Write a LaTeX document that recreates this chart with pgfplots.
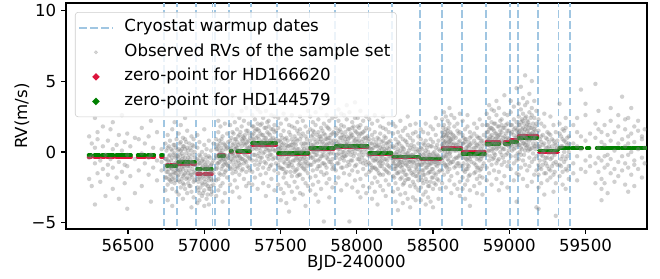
\documentclass[border=0pt]{standalone}
\usepackage{pgfplots}
\pgfplotsset{compat=1.18}
\usepackage{pgfplotstable}
\usepackage{fontspec}
\setmainfont{DejaVu Sans}
\definecolor{warm}{RGB}{160,198,226}
\definecolor{zpred}{RGB}{220,20,60}
\definecolor{zpgreen}{RGB}{0,128,0}
\definecolor{legedge}{RGB}{204,204,204}

\pgfplotsset{
 dashleg/.style={legend image code/.code={\draw[warm, line width=1.2bp, dash pattern=on 5.5bp off 2.4bp] (0bp,0bp) -- (24bp,0bp);}},
 grayleg/.style={legend image code/.code={\fill[gray, opacity=0.3] (12bp,0bp) circle (1.2bp);}},
 redleg/.style={legend image code/.code={\fill[zpred] (12bp,0bp) circle (0.9bp);}},
 greenleg/.style={legend image code/.code={\fill[zpgreen] (12bp,0bp) circle (0.9bp);}},
 rvpts/.style={only marks, mark=*, mark size=1.6bp, gray, mark options={draw opacity=0, fill=gray, fill opacity=0.37}},
}

\pgfplotstableread{
x a b c d e f g h
56245 1.1 -0.4 -1.9 nan nan nan nan nan
56262 -0.3 0.6 -2.4 nan nan nan nan nan
56283 2.4 -3.7 -0.8 0.3 nan nan nan nan
56300 1.4 -1.5 0.9 nan nan nan nan nan
56318 -0.6 -2.1 nan nan nan nan nan nan
56335 0.4 -1.2 1.8 nan nan nan nan nan
56352 -0.2 -3.1 nan nan nan nan nan nan
56368 0.8 -0.9 -1.6 nan nan nan nan nan
56385 1.6 -0.5 nan nan nan nan nan nan
56400 -1.1 0.2 -2.6 2.1 nan nan nan nan
56425 0.5 -1.8 nan nan nan nan nan nan
56440 -0.7 1.2 -3.3 nan nan nan nan nan
56460 0.1 -1.4 2.6 nan nan nan nan nan
56478 -0.9 0.7 -2.2 nan nan nan nan nan
56495 1.3 -0.2 -1.0 -4.0 nan nan nan nan
56515 0.4 -1.7 nan nan nan nan nan nan
56545 -0.5 1.0 -2.9 nan nan nan nan nan
56570 0.9 -1.3 nan nan nan nan nan nan
56590 -0.1 -2.4 1.7 nan nan nan nan nan
56610 -0.8 0.6 nan nan nan nan nan nan
56635 1.1 -1.6 -0.4 nan nan nan nan nan
56650 -0.2 2.2 -3.5 nan nan nan nan nan
56665 0.3 -1.1 nan nan nan nan nan nan
56690 -0.6 1.4 -2.0 nan nan nan nan nan
56720 0.2 -1.3 -0.7 nan nan nan nan nan
56745 -0.5 -1.8 0.6 -2.7 -1.1 nan nan nan
56760 0.3 -1.4 -2.3 -0.6 1.2 -3.4 nan nan
56775 -1.0 -0.2 -2.0 0.8 -1.6 nan nan nan
56790 0.1 -1.2 -2.6 -0.4 1.6 -1.9 -3.8 nan
56805 -0.8 0.5 -1.5 -2.2 -0.1 2.1 nan nan
56818 -1.3 -0.3 0.9 -2.8 -0.7 nan nan nan
56832 0.2 -1.1 -2.0 1.3 -0.5 -3.0 -1.6 nan
56846 -0.6 0.7 -1.4 -2.5 0.1 1.9 -0.9 nan
56860 -1.2 0.4 -2.2 -0.3 1.0 -3.3 -1.7 nan
56874 -0.4 -1.5 0.9 -2.6 0.2 -0.9 2.4 nan
56888 -1.0 0.3 -1.8 -0.6 1.5 -2.9 nan nan
56902 -0.2 -1.3 -2.4 0.6 -0.8 -1.9 nan nan
56916 -1.6 0.1 -0.7 -2.8 1.1 -3.9 nan nan
56930 -0.9 -2.1 0.4 -1.4 -3.2 0.9 nan nan
56955 -1.4 -0.5 -2.5 0.3 -1.9 -3.6 -0.9 1.2
56968 -1.8 -0.8 -2.9 -0.2 -1.3 0.7 -3.4 nan
56985 -1.1 -2.2 0.0 -1.6 -3.1 -0.6 nan nan
57000 -0.7 -1.9 -2.7 0.5 -1.2 -3.8 1.6 nan
57015 -1.5 -0.4 -2.3 -3.3 0.2 -1.0 nan nan
57030 -1.2 -2.6 -0.3 -1.7 -3.7 0.8 -2.0 nan
57045 -0.9 -1.9 -3.0 0.1 -1.4 -2.4 nan nan
57060 -0.6 -1.5 0.6 -2.3 nan nan nan nan
57078 -0.3 -1.2 0.9 -2.0 0.2 -3.1 nan nan
57092 0.4 -0.8 -1.9 1.4 -0.2 -2.7 2.2 nan
57106 -0.5 0.6 -1.6 -0.1 1.8 -2.4 nan nan
57120 0.1 -1.0 1.1 -2.2 -0.4 -3.5 nan nan
57135 -0.7 0.5 -1.4 2.0 -0.2 -2.9 nan nan
57150 0.3 -0.9 1.3 -1.8 -0.3 nan nan nan
57170 -0.2 0.8 -1.1 1.9 -2.3 0.2 -0.7 nan
57185 0.5 -0.6 1.4 -1.5 2.6 -0.1 -2.8 nan
57200 -0.4 0.9 -1.2 0.2 2.1 -2.0 nan nan
57215 0.7 -0.3 1.6 -1.0 -2.5 0.3 nan nan
57230 0.1 1.2 -0.8 2.4 -1.6 -0.3 -3.2 nan
57245 0.9 -0.5 1.8 -1.3 0.4 2.9 nan nan
57260 -0.1 1.0 -1.9 0.6 2.2 -0.8 nan nan
57275 0.6 -0.7 1.5 -1.4 0.2 3.1 -2.4 nan
57292 0.3 1.3 -0.4 2.0 -1.1 -2.2 0.8 nan
57315 0.9 -0.6 1.8 -1.4 2.6 0.2 -2.3 1.2
57332 0.3 1.5 -0.9 2.3 -1.8 0.7 3.2 -0.2
57350 1.1 -0.3 2.0 -1.2 0.5 -2.6 1.6 3.0
57368 0.6 1.9 -0.7 2.8 -1.6 0.1 -0.4 1.3
57386 -0.1 1.2 2.4 -1.1 0.8 -2.2 3.4 0.4
57404 0.7 -0.8 1.7 2.9 -1.5 0.2 -3.1 1.0
57422 1.3 0.1 -1.2 2.2 -0.5 1.8 -2.4 0.6
57440 0.4 1.6 -0.9 2.6 -1.9 0.9 -0.2 3.6
57460 0.8 -0.4 1.9 -1.3 0.1 2.5 -2.7 1.4
57485 -0.4 0.8 -1.5 1.7 -2.3 0.2 -0.9 2.4
57502 0.3 -1.1 1.2 -2.6 -0.2 2.0 -3.4 0.7
57520 -0.7 0.6 -1.8 1.5 -0.1 -2.9 2.7 -1.2
57538 0.1 -1.4 1.0 -0.5 2.3 -2.2 -3.6 0.5
57556 -0.3 1.4 -1.0 0.4 -2.4 1.9 -0.8 -4.2
57574 0.5 -0.9 1.8 -1.7 -0.2 2.6 -2.8 0.9
57592 -0.6 0.2 -1.4 1.1 -2.1 0.6 -3.3 1.7
57610 0.2 -1.2 1.5 -0.4 -2.5 2.1 0.8 -1.7
57628 -0.8 0.9 -1.6 0.0 1.6 -2.9 -0.5 2.5
57646 0.4 -0.5 -1.9 1.3 -1.1 2.2 -3.0 0.1
57664 -0.2 1.1 -1.3 0.6 -2.2 1.8 -0.7 -3.8
57680 0.6 -0.8 1.4 -1.5 0.0 2.9 -2.4 nan
57695 0.3 -0.9 1.6 -1.8 0.8 2.5 -0.3 -2.7
57712 -0.4 1.2 0.5 -1.3 2.1 -2.3 0.0 1.5
57730 0.7 -0.6 1.9 -1.7 0.2 -3.0 2.8 -0.2
57748 0.1 1.4 -1.0 0.9 -2.1 2.3 -0.6 -3.5
57766 0.9 -0.3 1.7 -1.4 0.4 -2.6 3.1 1.1
57784 -0.2 0.6 -1.6 1.3 -4.9 2.0 -0.8 0.3
57802 0.5 -1.1 1.8 -0.4 2.6 -2.2 0.9 -1.5
57820 0.0 1.0 -1.9 0.6 -0.7 2.2 -3.2 1.6
57840 0.6 -0.5 1.3 -1.2 2.4 0.2 -2.5 -0.9
57862 0.8 -0.4 1.7 -1.3 2.5 0.3 -2.2 1.2
57880 0.2 1.5 -0.8 2.2 -1.8 0.7 3.0 -0.1
57898 1.0 -0.2 1.9 -1.1 0.5 -2.7 1.4 2.7
57916 0.4 1.8 -0.6 2.6 -1.5 0.0 -0.3 1.1
57934 -0.2 1.1 2.3 -1.0 0.7 -2.3 3.3 0.5
57952 0.6 -0.9 1.6 2.8 -1.6 0.1 -4.9 1.0
57970 1.2 0.0 -1.3 2.1 -0.6 1.7 -2.5 0.4
57988 0.3 1.5 -1.0 2.4 -2.0 0.8 -0.1 3.5
58006 0.7 -0.5 1.8 -1.4 0.2 2.4 -2.8 1.3
58024 0.1 1.3 -0.7 1.9 -1.9 0.5 -3.2 2.9
58042 0.9 -0.2 1.4 -1.2 2.2 -0.8 0.4 -2.4
58062 0.4 1.7 -0.9 2.5 -1.6 0.0 -2.9 1.0
58082 -0.3 0.9 -1.4 1.6 -2.5 0.3 -0.8 2.3
58100 0.2 -1.1 1.2 -2.2 -0.4 2.0 -3.3 0.6
58118 -0.6 0.5 -1.8 1.4 -0.1 -2.8 2.6 -1.1
58136 0.0 -1.3 1.0 -0.6 2.2 -2.1 -3.7 0.4
58154 -0.4 1.3 -1.0 0.3 -2.4 1.8 -0.7 -1.6
58172 0.4 -0.8 1.7 -1.6 -0.2 2.5 -2.7 0.8
58190 -0.5 0.1 -1.3 1.0 -2.0 0.6 -3.1 1.6
58210 0.2 -1.0 1.4 -0.3 -2.3 2.0 0.7 -1.5
58238 -0.8 0.4 -1.7 -0.2 1.3 -2.8 -0.6 2.0
58254 -0.1 -1.2 -2.2 0.9 -1.0 1.8 -3.5 -0.4
58270 -0.6 0.7 -1.5 0.2 -2.6 1.4 -0.9 -4.1
58286 0.1 -1.0 1.1 -1.9 -0.3 2.2 -3.0 -0.7
58302 -0.9 0.3 -1.4 0.9 -2.3 0.0 -3.6 1.5
58318 -0.2 -1.6 0.8 -0.8 -2.9 1.7 -0.4 -2.0
58334 -1.0 0.5 -1.9 -0.1 1.2 -3.3 -0.6 2.5
58350 -0.3 -1.3 1.0 -2.4 -0.7 1.9 -3.9 0.3
58368 -0.7 0.2 -1.6 0.8 -2.1 -0.2 -3.2 1.3
58386 0.0 -1.1 -2.5 1.4 -0.6 2.0 -1.7 -3.4
58404 -0.5 0.6 -1.4 -0.9 -2.7 1.1 0.1 -2.0
58420 -0.9 0.3 -1.8 0.9 -2.5 -0.3 1.6 -3.4
58436 -0.2 -1.3 0.6 -2.2 -0.7 1.4 -3.0 -1.6
58452 -1.1 0.1 -1.9 0.8 -2.8 -0.5 2.0 -3.7
58468 -0.4 -1.5 0.5 -2.4 -0.9 1.3 -3.2 0.0
58484 -0.8 0.4 -1.4 -2.1 0.9 -3.5 -0.2 1.8
58500 -0.1 -1.2 -2.6 0.7 -0.6 1.6 -3.9 -1.8
58518 -0.7 0.3 -1.6 -0.3 -2.3 1.2 -0.9 2.4
58536 -0.3 -1.4 0.8 -2.0 -0.8 1.9 -3.3 0.2
58560 0.5 -0.6 1.4 -1.3 2.3 0.1 -2.2 1.0
58572 0.2 1.2 -0.8 1.9 -1.6 0.6 2.8 -0.3
58584 0.8 -0.3 1.6 -1.0 0.3 -2.5 1.1 2.5
58596 0.4 1.5 -0.5 2.2 -1.4 0.0 -0.9 1.3
58608 -0.1 1.0 2.0 -1.2 0.7 -2.0 3.1 0.4
58620 0.6 -0.7 1.3 2.6 -1.7 0.2 -2.9 0.9
58640 0.1 1.1 -1.1 1.8 -0.5 2.4 -2.3 0.6
58660 0.5 -0.4 1.5 -1.5 0.3 2.0 -2.6 -0.8
58676 -0.2 0.8 -1.0 1.4 -2.1 0.4 2.7 -3.1
58694 0.2 -1.0 1.2 -1.8 0.6 -0.4 2.2 -2.6
58710 -0.4 0.7 -1.4 1.6 -0.1 -2.3 0.9 -3.3
58726 0.4 -0.6 1.8 -1.2 -2.0 0.1 2.6 -0.9
58742 -0.2 1.0 -1.6 0.5 -2.7 1.4 -0.5 -3.8
58770 0.3 -0.8 1.3 -1.5 0.8 -2.4 2.0 -0.3
58788 -0.5 0.5 -1.1 1.7 -1.9 0.0 -2.9 1.1
58806 0.1 -1.3 1.0 -0.6 2.3 -2.2 0.6 -1.7
58824 -0.3 0.8 -1.8 0.4 -1.0 1.9 -3.0 0.0
58852 1.0 -0.2 1.9 -1.1 2.7 0.5 -2.0 1.4
58868 0.5 1.6 -0.6 2.4 -1.5 0.9 3.3 0.1
58884 1.2 0.1 2.1 -0.9 0.7 -2.3 1.7 3.0
58900 0.7 2.0 -0.4 2.9 -1.3 0.3 -0.1 1.5
58916 0.2 1.3 2.6 -0.8 1.0 -1.9 3.6 0.6
58932 0.9 -0.5 1.8 3.1 -1.4 0.4 -2.7 1.2
58950 1.4 0.3 -0.9 2.3 -0.2 1.9 -2.2 0.8
58968 0.6 1.7 -0.7 2.7 -1.7 1.1 0.2 4.0
58988 1.0 -0.1 2.0 -1.0 0.5 2.6 -2.5 1.5
59010 0.8 1.9 -0.3 2.8 -1.2 0.5 3.6 1.3
59030 1.2 0.2 2.3 -0.8 1.6 -2.0 3.2 0.6
59048 0.5 1.5 -0.6 2.1 4.5 -1.5 1.0 -3.5
59062 1.4 0.5 2.5 -0.5 1.9 3.4 -1.6 0.9
59076 0.9 2.1 -0.2 3.0 -1.1 1.3 4.6 0.3
59090 1.7 0.6 2.7 -0.6 1.1 3.8 -1.9 2.2
59104 1.1 2.4 0.1 3.3 -0.9 1.6 5.4 0.5
59118 1.5 0.4 2.2 -1.3 3.5 0.9 -2.4 1.9
59132 0.8 1.9 -0.4 2.8 4.1 -1.0 1.3 0.2
59148 1.3 2.6 0.3 -0.7 3.1 1.7 -2.1 5.0
59164 0.9 1.6 -0.5 2.4 -1.6 3.6 0.4 1.2
59178 1.2 -0.3 2.0 0.6 -1.3 2.9 -3.9 nan
59192 0.4 -0.9 1.5 -1.6 2.3 -2.5 -4.0 nan
59210 -0.2 1.1 -1.2 0.7 2.0 -2.2 nan nan
59230 0.6 -0.6 1.8 -1.5 0.1 2.7 -3.0 nan
59250 -0.4 0.9 -1.0 1.4 -2.0 0.3 nan nan
59270 0.2 -1.3 1.2 -0.5 2.5 -1.8 nan nan
59290 -0.1 0.8 -1.6 1.9 -0.8 -2.8 nan nan
59305 0.5 -0.7 1.4 -2.2 0.1 -4.5 nan nan
59330 0.3 1.3 -0.9 2.0 -1.7 3.4 nan nan
59350 -0.3 0.9 -1.4 1.6 -2.3 0.4 nan nan
59370 0.7 -0.5 1.7 -1.2 2.4 -2.6 nan nan
59390 0.0 1.1 -1.0 0.6 -1.9 nan nan nan
59420 0.6 -0.8 1.9 -1.5 nan nan nan nan
59445 1.4 -0.3 2.4 -2.0 0.4 nan nan nan
59470 0.2 4.4 -1.2 1.1 nan nan nan nan
59500 0.8 -0.6 2.6 3.4 -1.4 nan nan nan
59530 -0.3 1.3 -1.0 nan nan nan nan nan
59565 1.0 -0.8 2.0 -2.2 4.8 nan nan nan
59585 0.3 1.6 -1.4 -0.4 2.9 nan nan nan
59605 -0.6 0.7 -1.9 -2.6 1.4 -3.4 nan nan
59625 0.5 -1.1 1.9 -0.3 -2.2 nan nan nan
59645 -0.2 1.2 -0.9 -2.9 nan nan nan nan
59665 0.8 -0.5 2.2 -1.5 3.1 nan nan nan
59690 0.1 -1.2 1.4 -2.1 nan nan nan nan
59715 0.6 1.8 -0.7 2.6 -1.7 nan nan nan
59740 -0.3 0.9 -1.3 3.9 nan nan nan nan
59760 0.4 -0.8 1.6 -2.3 2.3 nan nan nan
59780 1.1 -0.2 2.4 -1.1 0.6 -2.8 nan nan
59800 0.0 1.3 -1.6 3.1 nan nan nan nan
59820 0.7 -0.6 1.8 -0.9 -2.4 nan nan nan
59845 0.2 1.5 -1.2 2.2 nan nan nan nan
59870 0.9 -0.4 1.1 -1.8 nan nan nan nan
59888 0.3 1.6 -0.8 nan nan nan nan nan
}\rvdata

\pgfplotstableread{
x i j k l m
56752 -0.5 -1.4 -0.9 0.1 -1.8
56768 -1.2 -0.3 -1.9 -0.7 0.4
56783 -0.6 -1.6 0.2 -1.1 -2.1
56798 -1.4 -0.2 -0.9 -1.8 0.5
56812 -0.4 -1.1 -2.0 0.3 -1.5
56826 -0.9 0.1 -1.7 -0.3 -1.3
56839 -0.2 -1.3 0.6 -2.1 -0.7
56853 -1.1 -0.5 -1.9 0.2 -0.1
56867 -0.6 -1.6 0.4 -1.0 -2.3
56881 -1.3 -0.1 -0.8 -1.9 0.7
56895 -0.4 -1.0 -2.2 0.1 -1.5
56909 -1.0 0.3 -1.6 -0.5 -2.4
56923 -0.7 -1.8 -0.2 -1.2 0.5
56937 -1.5 -0.4 -0.9 -2.0 0.0
56961 -1.2 -2.1 -0.6 -1.6 -2.7
56975 -1.9 -0.8 -1.4 -2.5 -0.3
56992 -1.0 -1.7 -2.3 -0.5 -2.9
57007 -1.6 -0.9 -2.1 -1.3 -0.2
57022 -1.1 -2.4 -0.7 -1.8 -3.0
57037 -1.7 -1.0 -2.6 -0.4 -1.4
57050 -1.3 -2.0 -0.8 -2.8 nan
57085 -0.4 0.5 -1.1 -0.8 0.2
57099 0.1 -0.7 -1.5 0.8 -0.3
57113 -0.6 0.3 -1.2 -0.1 0.9
57127 -0.2 -0.9 0.6 -1.6 -0.5
57142 0.2 -0.5 -1.3 0.4 -0.8
57157 -0.4 0.7 -1.0 nan nan
57177 0.3 -0.5 1.0 -1.2 0.0
57192 -0.3 0.6 -0.9 1.3 -0.1
57207 0.4 -0.7 0.9 -1.4 0.2
57222 -0.2 1.1 -0.6 0.5 -1.1
57237 0.6 -0.4 1.4 -0.9 0.1
57252 0.0 0.8 -1.2 1.1 -0.5
57267 0.5 -0.6 1.2 -0.2 0.9
57284 -0.3 0.7 -1.0 0.3 1.5
57300 0.4 -0.5 1.0 -1.3 0.1
57323 0.6 1.3 -0.2 0.9 1.8
57341 0.2 1.0 -0.6 1.6 0.5
57359 0.9 -0.1 1.5 0.3 -0.9
57377 0.4 1.2 -0.4 2.0 0.7
57395 1.0 0.0 1.7 -0.7 0.5
57413 0.3 1.4 -0.3 0.8 2.1
57431 0.8 -0.2 1.2 0.1 -1.0
57450 0.5 1.6 -0.5 1.0 0.2
57470 0.1 0.9 1.5 -0.8 0.6
57494 0.2 -0.6 0.8 -1.1 0.4
57511 -0.4 0.5 -1.2 0.1 1.0
57529 0.3 -0.8 0.9 -0.2 -1.5
57547 -0.5 0.4 -1.0 0.8 -0.1
57565 0.1 -0.7 1.2 -1.4 0.5
57583 -0.2 0.7 -1.1 0.3 -0.6
57601 0.5 -0.4 -1.3 0.9 0.0
57619 -0.6 0.2 -0.9 1.3 -1.6
57637 0.0 -1.0 0.6 -0.3 1.1
57655 -0.4 0.6 -1.2 0.2 -0.8
57673 0.3 -0.5 0.9 -1.0 0.1
57703 0.5 -0.4 1.1 -0.9 0.2
57721 0.0 0.9 -0.7 1.4 0.4
57739 0.6 -0.2 1.2 -1.2 0.1
57757 0.2 1.1 -0.5 0.7 -1.0
57775 0.7 -0.3 1.5 0.0 -0.8
57793 0.1 0.9 -0.9 1.2 0.4
57811 0.6 -0.5 1.0 -0.2 1.7
57829 0.3 1.2 -0.7 0.8 -0.1
57848 0.8 -0.1 1.4 -1.1 0.5
57871 0.6 -0.2 1.3 -0.8 0.3
57889 0.2 1.0 -0.5 1.6 0.5
57907 0.8 -0.4 1.2 0.0 -1.1
57925 0.3 1.4 -0.3 0.9 0.6
57943 0.9 0.0 1.6 -0.7 0.4
57961 0.4 1.1 -0.6 1.3 -0.2
57979 0.7 -0.3 1.8 0.2 1.0
57997 0.2 0.9 -0.9 1.4 0.5
58015 0.8 -0.2 1.1 -0.5 1.7
58033 0.4 1.3 -0.4 0.7 0.0
58052 0.6 -0.6 1.5 0.2 1.0
58071 0.3 1.1 -0.7 0.8 -0.2
58091 -0.2 0.6 -0.9 0.2 -1.3
58109 0.3 -0.6 0.9 -1.1 -0.1
58127 -0.5 0.4 -1.2 0.7 -0.3
58145 0.1 -0.8 0.5 -1.5 0.9
58163 -0.3 0.7 -1.0 0.2 -0.6
58181 0.2 -0.5 1.1 -1.2 0.0
58200 -0.6 0.3 -0.9 0.6 -1.4
58220 0.0 -1.1 0.8 -0.4 0.4
58246 -0.5 -1.2 0.3 -0.8 -1.8
58262 -0.2 0.5 -1.0 -1.5 0.0
58278 -0.8 -0.1 -1.4 0.6 -0.5
58294 -0.3 -1.1 0.4 -1.8 -0.7
58310 -0.6 0.2 -1.3 -0.4 -2.2
58326 -0.1 -0.9 0.7 -1.6 -0.4
58342 -0.7 0.1 -1.2 -0.3 -1.9
58359 -0.2 -1.0 0.5 -1.5 -0.6
58377 -0.8 -0.3 -1.4 0.4 -2.3
58395 -0.4 -1.2 0.2 -0.9 -1.7
58412 -0.7 0.0 -1.5 -0.2 nan
58428 -0.5 -1.3 0.2 -0.9 -2.0
58444 -0.8 -0.1 -1.6 -0.4 0.5
58460 -0.3 -1.1 -2.1 0.3 -0.7
58476 -0.9 -0.2 -1.4 -0.6 -2.4
58492 -0.4 -1.2 0.4 -1.8 -0.8
58509 -0.7 0.0 -1.5 -0.3 -2.2
58527 -0.2 -1.0 -1.9 0.5 -0.6
58545 -0.8 -0.4 -1.3 0.1 -2.6
58566 0.4 1.1 -0.4 0.8 1.7
58578 0.0 0.7 -0.9 1.4 0.3
58590 0.6 -0.2 1.2 0.2 -1.1
58602 0.3 1.0 -0.6 1.7 0.7
58614 0.8 -0.3 1.4 0.0 -0.8
58630 0.2 0.9 -0.7 1.2 0.5
58650 0.5 -0.4 1.0 -1.0 0.1
58668 0.1 0.7 -0.8 1.3 -0.3
58700 -0.1 0.6 -0.8 1.0 -1.3
58718 0.3 -0.5 0.9 -1.2 0.1
58734 -0.4 0.4 -1.0 0.7 -1.7
58752 0.2 -0.7 1.1 -0.3 0.6
58779 -0.2 0.6 -0.9 0.3 -1.4
58797 0.4 -0.4 1.0 -1.1 0.0
58815 -0.5 0.2 -1.2 0.8 -0.3
58833 0.1 -0.8 0.6 -0.2 1.2
58860 0.8 1.4 0.1 1.9 0.5
58876 0.4 1.1 -0.3 1.7 0.9
58892 1.0 0.2 1.6 -0.5 0.6
58908 0.5 1.3 -0.2 2.0 0.9
58924 1.1 0.3 1.8 -0.6 0.7
58941 0.6 1.5 0.0 1.2 2.2
58959 1.0 0.2 1.7 -0.4 0.7
58978 0.5 1.3 -0.2 0.9 1.9
58997 0.9 0.1 1.5 -0.7 0.4
59018 0.7 1.4 0.1 1.9 0.4
59040 1.0 0.3 1.7 -0.3 0.8
59055 0.6 1.2 -0.1 1.6 nan
59069 1.2 0.5 1.9 0.0 1.5
59083 0.8 1.6 0.2 2.3 1.1
59097 1.4 0.6 2.0 -0.2 1.2
59111 1.0 1.8 0.3 2.5 0.7
59125 1.3 0.5 2.1 0.1 1.6
59140 0.9 1.7 0.2 2.4 1.2
59156 1.4 0.6 2.0 -0.1 1.0
59171 1.0 1.8 0.4 1.5 0.2
59200 0.2 -0.6 0.9 -1.1 0.4
59220 -0.3 0.5 -0.9 1.2 0.0
59240 0.3 -0.8 1.0 -0.4 -1.5
59260 -0.1 0.7 -1.2 0.4 1.3
59280 0.4 -0.4 0.9 -1.0 0.0
59298 -0.2 0.6 -1.4 0.2 nan
59315 0.3 -0.9 0.8 nan nan
59340 0.4 -0.5 1.1 -1.0 nan
59360 0.0 0.8 -0.7 1.5 nan
59380 0.5 -0.3 1.0 -1.3 nan
}\rvcore

\begin{document}
\begin{tikzpicture}
\begin{axis}[
 scale only axis, width=418.3bp, height=162.7bp,
 xmin=56093, xmax=59903, ymin=-5.43, ymax=10.5,
 scaled x ticks=false, scaled y ticks=false,
 xtick={56500,57000,57500,58000,58500,59000,59500},
 xticklabels={56500,57000,57500,58000,58500,59000,59500},
 ytick={-5,0,5,10}, yticklabels={−5,0,5,10},
 tick align=outside, xtick pos=left, ytick pos=left,
 major tick length=3.5bp,
 every tick/.style={black, line width=0.8bp},
 axis line style={line width=0.8bp},
 tick label style={font=\fontsize{12}{14}\selectfont},
 every axis x label/.style={at={(axis description cs:0.5,-0.150)}, anchor=center, font=\fontsize{12}{14}\selectfont},
 every axis y label/.style={at={(axis description cs:-0.0757,0.5)}, anchor=center, rotate=90, font=\fontsize{12}{14}\selectfont},
 xlabel={BJD-240000}, ylabel={RV(m/s)},
 legend cell align=left,
 legend style={at={(0,1)}, anchor=north west, xshift=6.5bp, yshift=-6.5bp,
   draw=legedge, rounded corners=2bp, fill=white, fill opacity=0.8, draw opacity=1, text opacity=1,
   font=\fontsize{12}{14}\selectfont, inner xsep=2.3bp, inner ysep=2.2bp, row sep=0pt, column sep=5.9bp,
   nodes={text height=9bp, text depth=3.5bp, inner ysep=2.6bp, inner xsep=2bp}},
]
\addlegendimage{dashleg}
\addlegendentry{Cryostat warmup dates}
\addplot[rvpts, grayleg] table[x=x, y=a] {\rvdata};
\addlegendentry{Observed RVs of the sample set}
\addplot[rvpts, forget plot] table[x=x, y=b] {\rvdata};
\addplot[rvpts, forget plot] table[x=x, y=c] {\rvdata};
\addplot[rvpts, forget plot] table[x=x, y=d] {\rvdata};
\addplot[rvpts, forget plot] table[x=x, y=e] {\rvdata};
\addplot[rvpts, forget plot] table[x=x, y=f] {\rvdata};
\addplot[rvpts, forget plot] table[x=x, y=g] {\rvdata};
\addplot[rvpts, forget plot] table[x=x, y=h] {\rvdata};
\addplot[rvpts, forget plot] table[x=x, y=i] {\rvcore};
\addplot[rvpts, forget plot] table[x=x, y=j] {\rvcore};
\addplot[rvpts, forget plot] table[x=x, y=k] {\rvcore};
\addplot[rvpts, forget plot] table[x=x, y=l] {\rvcore};
\addplot[rvpts, forget plot] table[x=x, y=m] {\rvcore};

\pgfplotsinvokeforeach{56734,56823,56946,57055,57070,57162,57307,57479,57689,57857,58076,58233,58415,58557,58688,58846,59005,59057,59189,59324,59398}{
 \addplot[warm, line width=1.2bp, dash pattern=on 5.5bp off 2.4bp, forget plot] coordinates {(#1,-6) (#1,11)};
}

\addplot[zpred, line width=2.6bp, line cap=round, unbounded coords=jump, redleg] coordinates {
(56241,-0.37) (56258,-0.37) (56258,nan)
(56280,-0.37) (56312,-0.37) (56312,nan)
(56330,-0.37) (56345,-0.37) (56345,nan)
(56361,-0.37) (56404,-0.37) (56404,nan)
(56422,-0.37) (56520,-0.37) (56520,nan)
(56563,-0.37) (56611,-0.37) (56611,nan)
(56629,-0.37) (56644,-0.37) (56644,nan)
(56657,-0.37) (56672,-0.37) (56672,nan)
(56716,-0.37) (56728,-0.37) (56728,nan)
(56755,-0.88) (56768,-0.88) (56768,nan)
(56778,-0.88) (56818,-0.88) (56818,nan)
(56828,-0.83) (56902,-0.83) (56902,nan)
(56920,-0.83) (56940,-0.83) (56940,nan)
(56953,-1.55) (56979,-1.55) (56979,nan)
(57000,-1.55) (57050,-1.55) (57050,nan)
(57095,-0.22) (57130,-0.22) (57130,nan)
(57172,0.0) (57182,0.0) (57182,nan)
(57215,0.0) (57300,0.0) (57300,nan)
(57313,0.45) (57473,0.45) (57473,nan)
(57484,-0.12) (57684,-0.12) (57684,nan)
(57694,0.18) (57851,0.18) (57851,nan)
(57862,0.35) (58071,0.35) (58071,nan)
(58081,-0.19) (58228,-0.19) (58228,nan)
(58238,-0.40) (58410,-0.40) (58410,nan)
(58420,-0.54) (58552,-0.54) (58552,nan)
(58562,0.30) (58684,0.30) (58684,nan)
(58693,0.02) (58762,0.02) (58762,nan)
(58774,0.02) (58840,0.02) (58840,nan)
(58851,0.72) (58935,0.72) (58935,nan)
(58970,0.72) (59000,0.72) (59000,nan)
(59010,0.85) (59052,0.85) (59052,nan)
(59062,1.13) (59184,1.13) (59184,nan)
(59194,-0.03) (59320,-0.03) (59320,nan)
(59328,0.24) (59395,0.24) (59395,nan)
(59410,0.24) (59478,0.24) (59478,nan)
(59508,0.24) (59526,0.24) (59526,nan)
(59573,0.24) (59660,0.24) (59660,nan)
(59668,0.24) (59724,0.24) (59724,nan)
(59737,0.24) (59800,0.24) (59800,nan)
(59808,0.24) (59898,0.24)
};
\addlegendentry{zero-point for HD166620}

\addplot[zpgreen, line width=2.6bp, line cap=round, unbounded coords=jump, greenleg] coordinates {
(56241,-0.23) (56258,-0.23) (56258,nan)
(56280,-0.23) (56312,-0.23) (56312,nan)
(56330,-0.23) (56345,-0.23) (56345,nan)
(56361,-0.23) (56404,-0.23) (56404,nan)
(56422,-0.23) (56520,-0.23) (56520,nan)
(56563,-0.23) (56611,-0.23) (56611,nan)
(56629,-0.23) (56644,-0.23) (56644,nan)
(56657,-0.23) (56672,-0.23) (56672,nan)
(56716,-0.23) (56728,-0.23) (56728,nan)
(56755,-1.0) (56768,-1.0) (56768,nan)
(56778,-1.0) (56818,-1.0) (56818,nan)
(56828,-0.69) (56902,-0.69) (56902,nan)
(56920,-0.69) (56940,-0.69) (56940,nan)
(56953,-1.22) (56979,-1.22) (56979,nan)
(57000,-1.22) (57050,-1.22) (57050,nan)
(57095,-0.30) (57130,-0.30) (57130,nan)
(57172,0.08) (57182,0.08) (57182,nan)
(57215,0.05) (57300,0.05) (57300,nan)
(57313,0.62) (57473,0.62) (57473,nan)
(57484,-0.05) (57684,-0.05) (57684,nan)
(57694,0.30) (57851,0.30) (57851,nan)
(57862,0.42) (58071,0.42) (58071,nan)
(58081,-0.07) (58228,-0.07) (58228,nan)
(58238,-0.33) (58410,-0.33) (58410,nan)
(58420,-0.45) (58552,-0.45) (58552,nan)
(58562,0.17) (58684,0.17) (58684,nan)
(58693,-0.12) (58762,-0.12) (58762,nan)
(58774,-0.12) (58840,-0.12) (58840,nan)
(58851,0.56) (58935,0.56) (58935,nan)
(58970,0.56) (59000,0.56) (59000,nan)
(59010,0.70) (59052,0.70) (59052,nan)
(59062,0.98) (59184,0.98) (59184,nan)
(59194,0.10) (59320,0.10) (59320,nan)
(59328,0.27) (59395,0.27) (59395,nan)
(59410,0.27) (59478,0.27) (59478,nan)
(59508,0.27) (59526,0.27) (59526,nan)
(59573,0.27) (59660,0.27) (59660,nan)
(59668,0.27) (59724,0.27) (59724,nan)
(59737,0.27) (59800,0.27) (59800,nan)
(59808,0.27) (59898,0.27)
};
\addlegendentry{zero-point for HD144579}
\end{axis}
\pgfresetboundingbox
\path ([xshift=-47.5bp,yshift=-35.3bp]current axis.south west) rectangle ([xshift=9.4bp,yshift=2.2bp]current axis.north east);
\end{tikzpicture}
\end{document}
